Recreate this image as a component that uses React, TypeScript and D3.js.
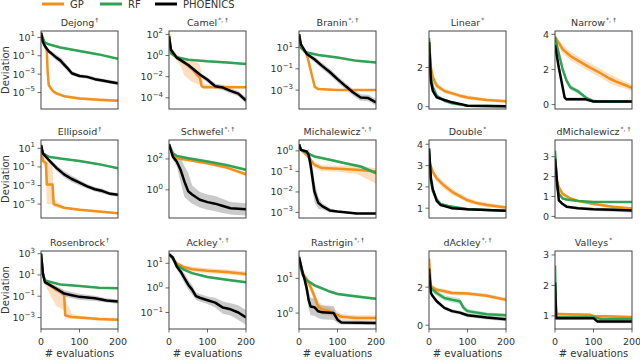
import React from "react";
import * as d3 from "d3";

// each point: [evaluations, value, band below, band above (optional)]
// log panels hold log10(deviation), linear panels hold deviation
type Pt = number[];

const methods = ["GP", "RF", "PHOENICS"];
const lineColors = ["#f39019", "#2fa353", "#000000"];
const bandColors = ["#f6a34c", "#5cbf7e", "#8a8a8a"];
const xTicks = [0, 100, 200];

// Dejong
const dejongGP: Pt[] = [[0, 1.5, 0.1], [5, 0.6, 0.3], [10, 0.1, 0.3], [15, -0.4, 0.4], [17, -2.5, 0.6], [20, -4.2, 0.3], [30, -4.8, 0.2], [40, -5.1, 0.2], [60, -5.4, 0.15], [100, -5.65, 0.15], [150, -5.8, 0.15], [200, -5.9, 0.15]];
const dejongRF: Pt[] = [[0, 1.5, 0.1], [5, 0.9, 0.1], [10, 0.45, 0.1], [20, 0.25, 0.1], [50, -0.1, 0.1], [100, -0.48, 0.1], [150, -0.85, 0.1], [200, -1.33, 0.1]];
const dejongPH: Pt[] = [[0, 1.5, 0.1], [5, 0.5, 0.2], [10, 0.07, 0.2], [20, -0.5, 0.2], [30, -0.85, 0.3], [40, -1.2, 0.3], [50, -1.5, 0.35], [60, -1.96, 0.35], [70, -2.4, 0.3], [80, -2.9, 0.25], [100, -3.2, 0.2], [120, -3.3, 0.2], [140, -3.55, 0.2], [160, -3.7, 0.2], [180, -3.85, 0.2], [200, -4.0, 0.2]];

// Camel
const camelGP: Pt[] = [[0, 2, 0.1], [5, 0.55, 0.3], [20, -0.2, 0.3], [30, -0.4, 0.6, 0.3], [40, -0.7, 1.2, 0.3], [60, -1.3, 1.2, 0.8], [75, -1.9, 0.8, 1.2], [80, -2.1, 0.7, 1.3], [85, -2.9, 0.2, 1.0], [90, -3.0, 0.1, 0.3], [200, -3.0, 0.1, 0.1]];
const camelRF: Pt[] = [[0, 1.8, 0.1], [5, 0.2, 0.1], [20, -0.16, 0.1], [50, -0.4, 0.1], [100, -0.55, 0.1], [150, -0.65, 0.1], [200, -0.8, 0.1]];
const camelPH: Pt[] = [[0, 1.8, 0.1], [5, 0.55, 0.2], [20, -0.2, 0.2], [50, -0.9, 0.2], [80, -1.8, 0.2], [100, -2.3, 0.25], [120, -2.9, 0.25], [140, -3.03, 0.25], [160, -3.35, 0.25], [180, -3.6, 0.25], [200, -4.26, 0.3]];

// Branin
const braninGP: Pt[] = [[0, 2.25, 0.1], [5, 1, 0.1], [20, 0.4, 0.2], [41, -2.7, 0.2], [50, -2.9, 0.1], [100, -3.0, 0.08], [200, -3.0, 0.08]];
const braninRF: Pt[] = [[0, 2.25, 0.1], [5, 1, 0.1], [20, 0.53, 0.1], [50, 0.31, 0.1], [100, 0.06, 0.1], [150, -0.25, 0.1], [200, -0.4, 0.1]];
const braninPH: Pt[] = [[0, 2.25, 0.1], [5, 1.3, 0.2], [20, 0.4, 0.2], [40, -0.1, 0.25], [60, -0.72, 0.3], [80, -1.3, 0.3], [100, -1.97, 0.3], [120, -2.6, 0.3], [140, -3.2, 0.3], [160, -3.7, 0.3], [180, -3.75, 0.3], [200, -4.15, 0.3]];

// Linear
const linearGP: Pt[] = [[0, 3.4, 0.1], [5, 2.0, 0.2], [10, 1.5, 0.2], [20, 1.07, 0.15], [40, 0.8, 0.12], [60, 0.68, 0.1], [80, 0.56, 0.1], [100, 0.47, 0.1], [150, 0.34, 0.08], [200, 0.27, 0.08]];
const linearRF: Pt[] = [[0, 3.5, 0.1], [5, 1.5, 0.15], [10, 1.0, 0.1], [20, 0.56, 0.08], [40, 0.3, 0.05], [60, 0.17, 0.04], [100, 0.05, 0.03], [200, 0.02, 0.02]];
const linearPH: Pt[] = [[0, 3.3, 0.1], [5, 1.3, 0.15], [10, 0.8, 0.1], [20, 0.47, 0.08], [40, 0.34, 0.06], [60, 0.22, 0.05], [80, 0.14, 0.04], [100, 0.05, 0.03], [200, 0.02, 0.02]];

// Narrow
const narrowGP: Pt[] = [[0, 3.85, 0.1], [20, 3.15, 0.25], [40, 2.77, 0.25], [60, 2.5, 0.25], [80, 2.25, 0.25], [100, 2.0, 0.25], [120, 1.77, 0.25], [140, 1.5, 0.25], [160, 1.3, 0.25], [180, 1.13, 0.2], [200, 0.95, 0.2]];
const narrowRF: Pt[] = [[0, 3.85, 0.1], [10, 2.9, 0.15], [20, 2.0, 0.15], [30, 1.36, 0.15], [40, 0.98, 0.15], [60, 0.75, 0.12], [80, 0.4, 0.1], [100, 0.2, 0.05], [120, 0.18, 0.05], [200, 0.17, 0.05]];
const narrowPH: Pt[] = [[0, 3.4, 0.1], [10, 2.1, 0.15], [20, 0.98, 0.15], [25, 0.4, 0.1], [30, 0.3, 0.1], [80, 0.3, 0.1], [100, 0.18, 0.08], [200, 0.18, 0.08]];

// Ellipsoid
const ellipsoidGP: Pt[] = [[0, 1.35, 0.1], [5, -0.36, 0.3], [10, -0.5, 0.5], [13, -0.6, 2.0, 0.3], [15, -2.9, 2.1, 2.5], [30, -2.9, 2.1, 2.5], [33, -5.0, 0.3, 0.5], [60, -5.4, 0.15], [100, -5.6, 0.12], [200, -6.0, 0.12]];
const ellipsoidRF: Pt[] = [[0, 1.35, 0.1], [5, 0.46, 0.1], [20, 0.1, 0.1], [50, -0.1, 0.1], [100, -0.36, 0.1], [150, -0.7, 0.1], [200, -1.14, 0.1]];
const ellipsoidPH: Pt[] = [[0, 1.35, 0.1], [5, 0.46, 0.2], [20, -0.25, 0.2], [40, -1.1, 0.3], [60, -1.8, 0.35], [80, -2.3, 0.35], [100, -2.7, 0.3], [120, -3.1, 0.25], [140, -3.4, 0.25], [160, -3.6, 0.25], [180, -3.9, 0.2], [200, -4.0, 0.2]];

// Schwefel
const schwefelGP: Pt[] = [[0, 2.95, 0.05], [10, 2.3, 0.08], [20, 2.04, 0.08], [50, 1.93, 0.08], [100, 1.72, 0.1], [150, 1.44, 0.1], [200, 1.0, 0.12]];
const schwefelRF: Pt[] = [[0, 2.95, 0.05], [10, 2.37, 0.08], [20, 2.2, 0.08], [50, 2.04, 0.08], [100, 1.83, 0.08], [150, 1.6, 0.1], [200, 1.3, 0.1]];
const schwefelPH: Pt[] = [[0, 2.95, 0.1], [10, 2.15, 0.2], [20, 1.83, 0.3], [30, 1.3, 0.8], [40, 0.54, 1.0], [50, -0.1, 0.6, 1.2], [60, -0.3, 0.6], [80, -0.65, 0.5], [100, -0.8, 0.5], [120, -0.9, 0.5], [140, -1.05, 0.45], [160, -1.2, 0.4], [200, -1.27, 0.4]];

// Michalewicz
const michalewiczGP: Pt[] = [[0, 0.32, 0.05], [5, 0.05, 0.05], [20, -0.2, 0.1], [40, -0.68, 0.15], [60, -0.84, 0.15], [100, -0.87, 0.15], [150, -0.92, 0.2], [200, -1.0, 0.6, 0.15]];
const michalewiczRF: Pt[] = [[0, 0.32, 0.05], [5, 0.05, 0.05], [20, -0.1, 0.05], [40, -0.27, 0.05], [80, -0.43, 0.06], [120, -0.6, 0.06], [160, -0.76, 0.08], [200, -1.08, 0.1]];
const michalewiczPH: Pt[] = [[0, 0.32, 0.05], [5, 0.05, 0.05], [20, -0.03, 0.05], [25, -0.2, 0.3], [30, -0.68, 0.5], [35, -1.32, 0.6], [40, -1.97, 0.5], [50, -2.53, 0.3], [60, -2.69, 0.15], [80, -2.9, 0.1], [100, -2.95, 0.05], [150, -3.05, 0.05], [200, -3.05, 0.05]];

// Double
const doubleGP: Pt[] = [[0, 3.2, 0.1], [10, 2.7, 0.15], [20, 2.4, 0.15], [40, 2.05, 0.15], [60, 1.77, 0.15], [80, 1.57, 0.12], [100, 1.37, 0.12], [120, 1.26, 0.1], [150, 1.15, 0.1], [200, 1.03, 0.08]];
const doubleRF: Pt[] = [[0, 3.8, 0.1], [5, 2.26, 0.1], [10, 1.8, 0.1], [20, 1.42, 0.08], [30, 1.2, 0.06], [50, 1.1, 0.05], [100, 0.95, 0.05], [200, 0.88, 0.05]];
const doublePH: Pt[] = [[0, 3.8, 0.1], [5, 2.4, 0.1], [10, 1.88, 0.08], [20, 1.34, 0.06], [30, 1.15, 0.05], [50, 1.05, 0.05], [60, 1.0, 0.05], [100, 0.95, 0.05], [200, 0.88, 0.05]];

// dMichalewicz
const dMichalewiczGP: Pt[] = [[0, 3.0, 0.1], [5, 1.8, 0.2], [10, 1.46, 0.15], [20, 1.13, 0.1], [40, 0.9, 0.08], [60, 0.78, 0.06], [100, 0.62, 0.06], [150, 0.49, 0.06], [200, 0.4, 0.06]];
const dMichalewiczRF: Pt[] = [[0, 3.3, 0.1], [5, 1.54, 0.1], [10, 1.13, 0.08], [20, 0.9, 0.05], [30, 0.85, 0.05], [60, 0.78, 0.05], [100, 0.73, 0.05], [200, 0.73, 0.05]];
const dMichalewiczPH: Pt[] = [[0, 2.9, 0.1], [5, 1.8, 0.1], [10, 0.81, 0.08], [20, 0.62, 0.06], [30, 0.49, 0.06], [60, 0.41, 0.06], [100, 0.36, 0.08], [150, 0.33, 0.1], [200, 0.3, 0.1]];

// Rosenbrock
const rosenbrockGP: Pt[] = [[0, 3.0, 0.1], [5, 1.1, 0.2], [10, 0.48, 0.3], [20, 0.17, 0.8, 0.2], [40, -0.45, 1.5, 0.3], [55, -0.6, 1.6, 0.3], [60, -0.9, 1.5, 0.3], [63, -2.8, 0.3, 1.5], [80, -2.95, 0.2, 0.3], [100, -3.0, 0.15], [150, -3.15, 0.15], [200, -3.2, 0.15]];
const rosenbrockRF: Pt[] = [[0, 3.0, 0.1], [5, 1.1, 0.1], [10, 0.48, 0.1], [20, 0.38, 0.08], [50, 0.1, 0.08], [100, -0.05, 0.08], [150, -0.2, 0.08], [200, -0.25, 0.08]];
const rosenbrockPH: Pt[] = [[0, 3.0, 0.1], [5, 1.1, 0.2], [10, 0.33, 0.2], [20, 0.11, 0.2], [40, -0.3, 0.25], [60, -0.75, 0.3], [80, -0.9, 0.3], [100, -1.06, 0.3], [140, -1.2, 0.25], [170, -1.4, 0.2], [200, -1.5, 0.2]];

// Ackley
const ackleyGP: Pt[] = [[0, 1.37, 0.03], [10, 1.2, 0.05], [20, 1.0, 0.06], [40, 0.84, 0.08], [60, 0.76, 0.1], [100, 0.7, 0.1], [150, 0.65, 0.1], [200, 0.57, 0.1]];
const ackleyRF: Pt[] = [[0, 1.37, 0.03], [10, 1.18, 0.04], [20, 0.93, 0.05], [40, 0.73, 0.05], [60, 0.6, 0.05], [100, 0.44, 0.05], [150, 0.33, 0.05], [200, 0.23, 0.05]];
const ackleyPH: Pt[] = [[0, 1.37, 0.05], [10, 1.24, 0.08], [20, 0.87, 0.12], [30, 0.67, 0.15], [40, 0.4, 0.2], [50, 0.13, 0.2], [60, -0.07, 0.2], [70, -0.33, 0.15], [80, -0.4, 0.15], [100, -0.5, 0.15], [120, -0.6, 0.2], [140, -0.8, 0.25], [160, -0.87, 0.25], [180, -1.0, 0.3], [200, -1.2, 0.3]];

// Rastrigin
const rastriginGP: Pt[] = [[0, 1.57, 0.05], [10, 1.14, 0.1], [20, 0.97, 0.1], [30, 0.76, 0.12], [40, 0.48, 0.15], [50, 0.19, 0.15], [60, 0.1, 0.15], [80, 0.05, 0.12], [100, -0.05, 0.1], [110, -0.11, 0.08], [150, -0.14, 0.08], [200, -0.14, 0.08]];
const rastriginRF: Pt[] = [[0, 1.43, 0.05], [10, 1.1, 0.05], [20, 0.95, 0.05], [40, 0.8, 0.05], [60, 0.71, 0.05], [80, 0.62, 0.04], [100, 0.55, 0.04], [150, 0.48, 0.04], [200, 0.41, 0.04]];
const rastriginPH: Pt[] = [[0, 1.62, 0.08], [10, 1.14, 0.1], [15, 0.95, 0.15], [20, 0.71, 0.2], [25, 0.38, 0.25], [30, 0.19, 0.25], [40, 0.17, 0.25], [50, 0.05, 0.2], [60, 0.02, 0.2], [90, 0.0, 0.2], [100, -0.19, 0.1], [110, -0.27, 0.06], [200, -0.29, 0.06]];

// dAckley
const dAckleyGP: Pt[] = [[0, 3.5, 0.1], [5, 2.03, 0.15], [20, 1.86, 0.12], [40, 1.78, 0.12], [60, 1.69, 0.12], [100, 1.66, 0.1], [150, 1.55, 0.1], [200, 1.34, 0.1]];
const dAckleyRF: Pt[] = [[0, 2.55, 0.1], [5, 1.95, 0.15], [20, 1.69, 0.15], [40, 1.43, 0.15], [60, 1.34, 0.15], [80, 1.26, 0.15], [90, 0.91, 0.15], [100, 0.74, 0.12], [150, 0.57, 0.1], [200, 0.52, 0.1]];
const dAckleyPH: Pt[] = [[0, 2.98, 0.1], [5, 1.69, 0.12], [10, 1.52, 0.12], [20, 1.26, 0.12], [40, 0.91, 0.1], [60, 0.74, 0.1], [80, 0.66, 0.1], [100, 0.52, 0.1], [150, 0.4, 0.1], [200, 0.31, 0.1]];

// Valleys
const valleysGP: Pt[] = [[0, 2.0, 0.05], [3, 1.09, 0.05], [10, 1.06, 0.04], [90, 1.04, 0.04], [100, 1.0, 0.04], [200, 0.96, 0.04]];
const valleysRF: Pt[] = [[0, 2.65, 0.05], [3, 0.96, 0.05], [10, 0.96, 0.03], [100, 0.96, 0.03], [120, 0.9, 0.03], [200, 0.9, 0.03]];
const valleysPH: Pt[] = [[0, 2.1, 0.05], [3, 0.92, 0.05], [100, 0.92, 0.03], [110, 0.82, 0.06], [200, 0.82, 0.06]];

interface Panel {
  name: string;
  sup: string;
  log: boolean;
  domain: [number, number];
  ticks: number[];
  series: Pt[][];
}

const panels: Panel[] = [
  { name: "Dejong", sup: "†", log: true, domain: [-6.8, 1.7], ticks: [1, -1, -3, -5], series: [dejongGP, dejongRF, dejongPH] },
  { name: "Camel", sup: "*, †", log: true, domain: [-5.06, 2.32], ticks: [2, 0, -2, -4], series: [camelGP, camelRF, camelPH] },
  { name: "Branin", sup: "*, †", log: true, domain: [-4.78, 2.56], ticks: [1, -1, -3], series: [braninGP, braninRF, braninPH] },
  { name: "Linear", sup: "*", log: false, domain: [-0.12, 3.86], ticks: [0, 2], series: [linearGP, linearRF, linearPH] },
  { name: "Narrow", sup: "*, †", log: false, domain: [-0.25, 4.19], ticks: [0, 2, 4], series: [narrowGP, narrowRF, narrowPH] },
  { name: "Ellipsoid", sup: "†", log: true, domain: [-6.5, 1.9], ticks: [1, -1, -3, -5], series: [ellipsoidGP, ellipsoidRF, ellipsoidPH] },
  { name: "Schwefel", sup: "*, †", log: true, domain: [-1.83, 3.23], ticks: [2, 0], series: [schwefelGP, schwefelRF, schwefelPH] },
  { name: "Michalewicz", sup: "*, †", log: true, domain: [-3.27, 0.53], ticks: [0, -1, -2, -3], series: [michalewiczGP, michalewiczRF, michalewiczPH] },
  { name: "Double", sup: "*", log: false, domain: [0.54, 4.2], ticks: [1, 2, 3, 4], series: [doubleGP, doubleRF, doublePH] },
  { name: "dMichalewicz", sup: "*, †", log: false, domain: [-0.08, 3.84], ticks: [0, 1, 2, 3], series: [dMichalewiczGP, dMichalewiczRF, dMichalewiczPH] },
  { name: "Rosenbrock", sup: "†", log: true, domain: [-4.08, 3.25], ticks: [3, 1, -1, -3], series: [rosenbrockGP, rosenbrockRF, rosenbrockPH] },
  { name: "Ackley", sup: "*, †", log: true, domain: [-1.67, 1.5], ticks: [1, 0, -1], series: [ackleyGP, ackleyRF, ackleyPH] },
  { name: "Rastrigin", sup: "*, †", log: true, domain: [-0.46, 1.79], ticks: [1, 0], series: [rastriginGP, rastriginRF, rastriginPH] },
  { name: "dAckley", sup: "*, †", log: false, domain: [-0.2, 3.9], ticks: [0, 2], series: [dAckleyGP, dAckleyRF, dAckleyPH] },
  { name: "Valleys", sup: "*", log: false, domain: [0.57, 3.13], ticks: [1, 2, 3], series: [valleysGP, valleysRF, valleysPH] },
];

const W = 640;
const H = 360;
const colLeft = [41, 169, 299, 429, 555];
const rowTop = [31, 140, 251];
const pw = 77;
const ph = 78;
const font = "DejaVu Sans, sans-serif";
const textColor = "#333";
const frameColor = "#444";

const fmtExp = (k: number) => (k < 0 ? "\u2212" + Math.abs(k) : String(k));

function PanelChart({ p, i }: { p: Panel; i: number }) {
  const col = i % 5;
  const row = Math.floor(i / 5);
  const left = colLeft[col];
  const top = rowTop[row];
  const x = d3.scaleLinear().domain([0, 200]).range([left, left + pw]);
  const y = p.log
    ? d3.scaleLog().domain([10 ** p.domain[0], 10 ** p.domain[1]]).range([top + ph, top])
    : d3.scaleLinear().domain(p.domain).range([top + ph, top]);
  const val = (v: number) => (p.log ? 10 ** v : v);
  const line = d3
    .line<Pt>()
    .x((d) => x(d[0]))
    .y((d) => y(val(d[1])));
  const area = d3
    .area<Pt>()
    .x((d) => x(d[0]))
    .y0((d) => y(val(d[1] - d[2])))
    .y1((d) => y(val(d[1] + (d[3] ?? d[2]))));
  const clipId = `clip-${i}`;
  return (
    <g>
      <defs>
        <clipPath id={clipId}>
          <rect x={left} y={top} width={pw} height={ph} />
        </clipPath>
      </defs>
      <g clipPath={`url(#${clipId})`}>
        {p.series.map((s, k) => (
          <path key={"b" + k} d={area(s) || ""} fill={bandColors[k]} fillOpacity={k === 2 ? 0.45 : 0.35} />
        ))}
        {p.series.map((s, k) => (
          <path
            key={"l" + k}
            d={line(s) || ""}
            fill="none"
            stroke={lineColors[k]}
            strokeWidth={2.5}
            strokeLinejoin="round"
          />
        ))}
      </g>
      <rect x={left} y={top} width={pw} height={ph} fill="none" stroke={frameColor} strokeWidth={1} />
      {p.ticks.map((t) => {
        const ty = y(val(t));
        return (
          <g key={t}>
            <line x1={left - 3.5} x2={left} y1={ty} y2={ty} stroke={frameColor} strokeWidth={0.8} />
            <text x={left - 6} y={ty + 3.5} textAnchor="end" fontSize={9.5} fill={textColor} fontFamily={font}>
              {p.log ? (
                <>
                  10
                  <tspan dy={-4.5} fontSize={7}>
                    {fmtExp(t)}
                  </tspan>
                </>
              ) : (
                String(t)
              )}
            </text>
          </g>
        );
      })}
      <text x={left + pw / 2} y={top - 5} textAnchor="middle" fontSize={9.5} fill={textColor} fontFamily={font}>
        {p.name}
        <tspan dx={1} dy={-4} fontSize={6}>
          {p.sup}
        </tspan>
      </text>
      {col === 0 && (
        <text
          transform={`translate(9,${top + ph / 2}) rotate(-90)`}
          textAnchor="middle"
          fontSize={10}
          fill={textColor}
          fontFamily={font}
        >
          Deviation
        </text>
      )}
      {row === 2 && (
        <g>
          {xTicks.map((t) => (
            <g key={t}>
              <line x1={x(t)} x2={x(t)} y1={top + ph} y2={top + ph + 3.5} stroke={frameColor} strokeWidth={0.8} />
              <text x={x(t)} y={top + ph + 15.5} textAnchor="middle" fontSize={9.5} fill={textColor} fontFamily={font}>
                {t}
              </text>
            </g>
          ))}
          <text x={left + pw / 2} y={top + ph + 27.5} textAnchor="middle" fontSize={10} fill={textColor} fontFamily={font}>
            # evaluations
          </text>
        </g>
      )}
    </g>
  );
}

const legendX = [42, 100, 155];

export default function App() {
  return (
    <svg width={W} height={H} style={{ position: "absolute", left: 0, top: 0, background: "#fff" }}>
      {methods.map((m, k) => (
        <g key={m}>
          <line x1={legendX[k]} x2={legendX[k] + 22} y1={4} y2={4} stroke={lineColors[k]} strokeWidth={3} />
          <text x={legendX[k] + 28} y={8} fontSize={10} fill={textColor} fontFamily={font}>
            {m}
          </text>
        </g>
      ))}
      {panels.map((p, i) => (
        <PanelChart key={p.name} p={p} i={i} />
      ))}
    </svg>
  );
}
